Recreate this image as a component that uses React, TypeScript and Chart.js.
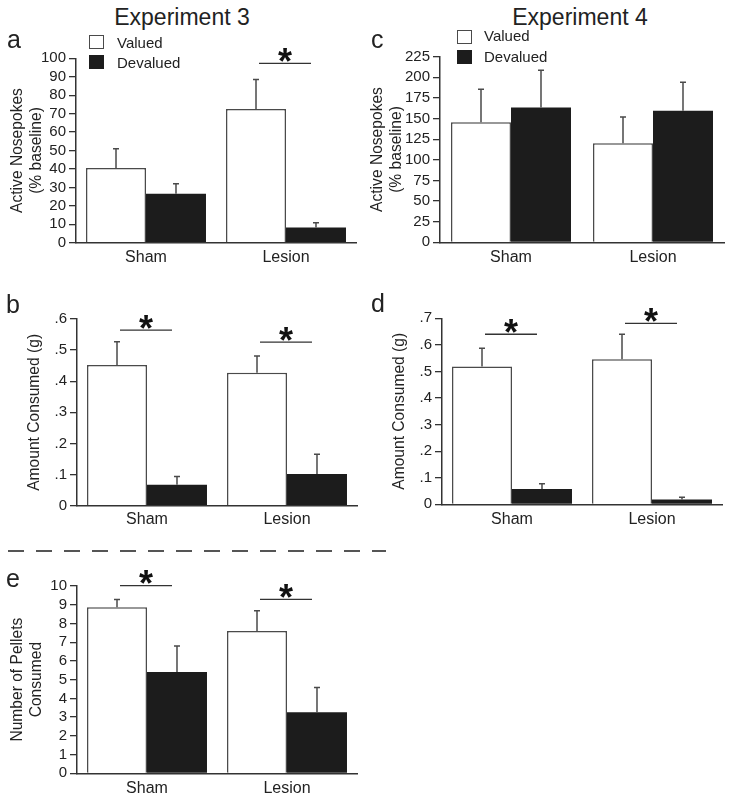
import React, { useEffect, useRef } from 'react';
import { Chart, registerables } from 'chart.js';

Chart.register(...registerables);

// ---------- data ----------
const categories = ['Sham', 'Lesion'];
const seriesLabels = ['Valued', 'Devalued'];

// Panel a – Experiment 3, active nosepokes (% baseline)
const aValued = [40.5, 72.5];
const aValuedSem = [10.5, 16];
const aDevalued = [26.5, 8.3];
const aDevaluedSem = [5.5, 2.5];
const aSigCategories = ['Lesion'];
const aSigLevels = [97.3];
const aYMax = 100;
const aYStep = 10;

// Panel b – Experiment 3, amount consumed (g)
const bValued = [0.452, 0.427];
const bValuedSem = [0.075, 0.054];
const bDevalued = [0.067, 0.102];
const bDevaluedSem = [0.027, 0.063];
const bSigCategories = ['Sham', 'Lesion'];
const bSigLevels = [0.564, 0.526];
const bYMax = 0.6;
const bYStep = 0.1;

// Panel c – Experiment 4, active nosepokes (% baseline)
const cValued = [145.5, 120];
const cValuedSem = [40, 32];
const cDevalued = [163.5, 159.5];
const cDevaluedSem = [45, 34.5];
const cSigCategories: string[] = [];
const cSigLevels: number[] = [];
const cYMax = 225;
const cYStep = 25;

// Panel d – Experiment 4, amount consumed (g)
const dValued = [0.519, 0.546];
const dValuedSem = [0.068, 0.094];
const dDevalued = [0.058, 0.018];
const dDevaluedSem = [0.019, 0.009];
const dSigCategories = ['Sham', 'Lesion'];
const dSigLevels = [0.64, 0.681];
const dYMax = 0.7;
const dYStep = 0.1;

// Panel e – number of pellets consumed
const eValued = [8.86, 7.6];
const eValuedSem = [0.42, 1.08];
const eDevalued = [5.41, 3.26];
const eDevaluedSem = [1.39, 1.32];
const eSigCategories = ['Sham', 'Lesion'];
const eSigLevels = [10.02, 9.29];
const eYMax = 10;
const eYStep = 1;

// ---------- styling ----------
const FONT = "'Liberation Sans', Arial, Helvetica, sans-serif";
const TEXT = '#222';
const AXIS = '#333';
const EDGE = '#4a4a4a';
const DARK = '#1c1c1c';

type Box = { x: number; y: number; w: number; h: number };
type Area = { l: number; t: number; r: number; b: number };

type Panel = {
  key: string;
  canvas: Box;
  area: Area;
  yTitle: string[];
  titlePad: number;
  tickPad: number;
  catPct: number;
  yMax: number;
  yStep: number;
  decimal: boolean;
  valued: number[];
  valuedSem: number[];
  devalued: number[];
  devaluedSem: number[];
  sigCats: string[];
  sigLevels: number[];
};

const panels: Panel[] = [
  {
    key: 'a', canvas: { x: 0, y: 40, w: 365, h: 230 }, area: { l: 76, t: 58.3, r: 356, b: 242.7 },
    yTitle: ['Active Nosepokes', '(% baseline)'], titlePad: 8.6, tickPad: 5.5, catPct: 0.857,
    yMax: aYMax, yStep: aYStep, decimal: false,
    valued: aValued, valuedSem: aValuedSem, devalued: aDevalued, devaluedSem: aDevaluedSem,
    sigCats: aSigCategories, sigLevels: aSigLevels,
  },
  {
    key: 'b', canvas: { x: 0, y: 290, w: 365, h: 240 }, area: { l: 77, t: 319, r: 357, b: 505.7 },
    yTitle: ['Amount Consumed (g)'], titlePad: 25.6, tickPad: 4, catPct: 0.857,
    yMax: bYMax, yStep: bYStep, decimal: true,
    valued: bValued, valuedSem: bValuedSem, devalued: bDevalued, devaluedSem: bDevaluedSem,
    sigCats: bSigCategories, sigLevels: bSigLevels,
  },
  {
    key: 'c', canvas: { x: 365, y: 40, w: 364, h: 230 }, area: { l: 440, t: 56.7, r: 724, b: 242.3 },
    yTitle: ['Active Nosepokes', '(% baseline)'], titlePad: 3.6, tickPad: 5.5, catPct: 0.845,
    yMax: cYMax, yStep: cYStep, decimal: false,
    valued: cValued, valuedSem: cValuedSem, devalued: cDevalued, devaluedSem: cDevaluedSem,
    sigCats: cSigCategories, sigLevels: cSigLevels,
  },
  {
    key: 'd', canvas: { x: 365, y: 290, w: 364, h: 240 }, area: { l: 442, t: 318.3, r: 722, b: 504.3 },
    yTitle: ['Amount Consumed (g)'], titlePad: 25.6, tickPad: 5.5, catPct: 0.857,
    yMax: dYMax, yStep: dYStep, decimal: true,
    valued: dValued, valuedSem: dValuedSem, devalued: dDevalued, devaluedSem: dDevaluedSem,
    sigCats: dSigCategories, sigLevels: dSigLevels,
  },
  {
    key: 'e', canvas: { x: 0, y: 560, w: 365, h: 240 }, area: { l: 77, t: 586, r: 357, b: 773.3 },
    yTitle: ['Number of Pellets', 'Consumed'], titlePad: 8.6, tickPad: 5.5, catPct: 0.857,
    yMax: eYMax, yStep: eYStep, decimal: false,
    valued: eValued, valuedSem: eValuedSem, devalued: eDevalued, devaluedSem: eDevaluedSem,
    sigCats: eSigCategories, sigLevels: eSigLevels,
  },
];

const STAR_SIZE = 36;

function overlayPlugin(p: Panel) {
  return {
    id: 'overlay_' + p.key,
    afterDatasetsDraw(chart: any) {
      const ctx = chart.ctx as CanvasRenderingContext2D;
      const ys = chart.scales.y;
      ctx.save();
      ctx.strokeStyle = EDGE;
      ctx.lineWidth = 1.5;
      const series = [
        { v: p.valued, s: p.valuedSem },
        { v: p.devalued, s: p.devaluedSem },
      ];
      series.forEach((ser, di) => {
        const meta = chart.getDatasetMeta(di);
        meta.data.forEach((bar: any, i: number) => {
          const x = bar.x;
          const top = ys.getPixelForValue(ser.v[i]);
          const end = ys.getPixelForValue(ser.v[i] + ser.s[i]);
          ctx.beginPath();
          ctx.moveTo(x, top);
          ctx.lineTo(x, end);
          ctx.moveTo(x - 3, end);
          ctx.lineTo(x + 3, end);
          ctx.stroke();
        });
      });
      // significance brackets
      p.sigCats.forEach((cat, k) => {
        const i = categories.indexOf(cat);
        const x1 = chart.getDatasetMeta(0).data[i].x + 3;
        const x2 = chart.getDatasetMeta(1).data[i].x - 5;
        const ly = ys.getPixelForValue(p.sigLevels[k]);
        ctx.strokeStyle = AXIS;
        ctx.lineWidth = 1.3;
        ctx.beginPath();
        ctx.moveTo(x1, ly);
        ctx.lineTo(x2, ly);
        ctx.stroke();
        ctx.fillStyle = '#111';
        ctx.font = `bold ${STAR_SIZE}px ${FONT}`;
        ctx.textAlign = 'center';
        ctx.textBaseline = 'alphabetic';
        ctx.fillText('*', (x1 + x2) / 2, ly - 5 + 0.43 * STAR_SIZE);
      });
      ctx.restore();
    },
  };
}

function PanelChart({ p }: { p: Panel }) {
  const ref = useRef<HTMLCanvasElement | null>(null);
  useEffect(() => {
    if (!ref.current) return;
    const yW = p.area.l - p.canvas.x;
    const xH = p.canvas.y + p.canvas.h - p.area.b;
    const chart = new Chart(ref.current, {
      type: 'bar',
      data: {
        labels: categories,
        datasets: [
          {
            label: seriesLabels[0],
            data: p.valued,
            backgroundColor: '#ffffff',
            borderColor: EDGE,
            borderWidth: 1.5,
            barPercentage: 1,
            categoryPercentage: p.catPct,
          },
          {
            label: seriesLabels[1],
            data: p.devalued,
            backgroundColor: DARK,
            borderColor: DARK,
            borderWidth: 0,
            barPercentage: 1,
            categoryPercentage: p.catPct,
          },
        ],
      },
      options: {
        responsive: false,
        animation: false,
        devicePixelRatio: 1,
        layout: {
          padding: {
            top: p.area.t - p.canvas.y,
            right: p.canvas.x + p.canvas.w - p.area.r,
            left: 0,
            bottom: 0,
          },
        },
        plugins: {
          legend: { display: false },
          tooltip: { enabled: false },
          title: { display: false },
        },
        scales: {
          x: {
            type: 'category',
            offset: true,
            grid: { display: false, drawTicks: false },
            border: { display: true, color: AXIS, width: 1.5 },
            ticks: {
              color: TEXT,
              font: { family: FONT, size: 16 },
              padding: p.tickPad,
              maxRotation: 0,
              minRotation: 0,
              autoSkip: false,
            },
            afterFit: (s: any) => {
              s.height = xH;
            },
          },
          y: {
            type: 'linear',
            min: 0,
            max: p.yMax,
            grid: { drawOnChartArea: false, drawTicks: true, tickLength: 7, color: AXIS, lineWidth: 1.3 },
            border: { display: true, color: AXIS, width: 1.5 },
            ticks: {
              stepSize: p.yStep,
              autoSkip: false,
              maxTicksLimit: 20,
              color: TEXT,
              font: { family: FONT, size: 15 },
              padding: 3,
              callback: (v: any) => {
                const n = Number(v);
                if (!p.decimal) return String(Math.round(n));
                return n === 0 ? '0' : n.toFixed(1).replace(/^0/, '');
              },
            },
            title: {
              display: true,
              text: p.yTitle,
              color: TEXT,
              font: { family: FONT, size: 15.6, lineHeight: 1.2 },
              padding: { top: p.titlePad, bottom: 0 },
            },
            afterFit: (s: any) => {
              s.width = yW;
            },
          },
        },
      } as any,
      plugins: [overlayPlugin(p)],
    });
    return () => chart.destroy();
  }, [p]);
  return (
    <canvas
      ref={ref}
      width={p.canvas.w}
      height={p.canvas.h}
      style={{
        position: 'absolute',
        left: p.canvas.x,
        top: p.canvas.y,
        width: p.canvas.w,
        height: p.canvas.h,
      }}
    />
  );
}

const textBase: React.CSSProperties = {
  position: 'absolute',
  fontFamily: FONT,
  color: TEXT,
  lineHeight: 1,
  whiteSpace: 'nowrap',
  margin: 0,
};

function Label({ x, baseline, size, text, center }: { x: number; baseline: number; size: number; text: string; center?: boolean }) {
  const top = baseline - 0.8465 * size;
  if (center) {
    return <div style={{ ...textBase, left: x - 150, width: 300, textAlign: 'center', top, fontSize: size }}>{text}</div>;
  }
  return <div style={{ ...textBase, left: x, top, fontSize: size }}>{text}</div>;
}

function LegendBox({ x, y, dark }: { x: number; y: number; dark: boolean }) {
  return (
    <div
      style={{
        position: 'absolute',
        left: x,
        top: y,
        width: 15,
        height: 14,
        boxSizing: 'border-box',
        background: dark ? DARK : '#fff',
        border: `1.5px solid ${dark ? DARK : EDGE}`,
      }}
    />
  );
}

export default function App() {
  return (
    <div style={{ position: 'absolute', left: 0, top: 0, width: 729, height: 800, background: '#fff', overflow: 'hidden' }}>
      {panels.map((p) => (
        <PanelChart key={p.key} p={p} />
      ))}

      {/* column titles */}
      <Label x={182} baseline={25} size={23} text="Experiment 3" center />
      <Label x={580} baseline={25} size={23} text="Experiment 4" center />

      {/* panel letters */}
      <Label x={7} baseline={48} size={25} text="a" />
      <Label x={6} baseline={313} size={25} text="b" />
      <Label x={371} baseline={48} size={25} text="c" />
      <Label x={371} baseline={312} size={25} text="d" />
      <Label x={6} baseline={587} size={25} text="e" />

      {/* legend – Experiment 3 */}
      <LegendBox x={89} y={35} dark={false} />
      <LegendBox x={89} y={55} dark={true} />
      <Label x={117} baseline={47.4} size={15} text={seriesLabels[0]} />
      <Label x={117} baseline={67.4} size={15} text={seriesLabels[1]} />

      {/* legend – Experiment 4 */}
      <LegendBox x={457} y={29.5} dark={false} />
      <LegendBox x={457} y={50} dark={true} />
      <Label x={484} baseline={41} size={15} text={seriesLabels[0]} />
      <Label x={484} baseline={62} size={15} text={seriesLabels[1]} />

      {/* dashed separator */}
      <div
        style={{
          position: 'absolute',
          left: 8,
          top: 550,
          width: 378,
          height: 1.5,
          background: 'repeating-linear-gradient(to right, #555 0px, #555 16px, transparent 16px, transparent 28px)',
        }}
      />
    </div>
  );
}
